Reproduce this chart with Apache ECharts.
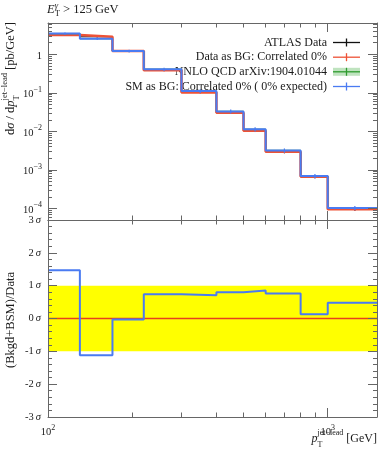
<!DOCTYPE html>
<html><head><meta charset="utf-8">
<script src="https://cdn.jsdelivr.net/npm/echarts@6.0.0/dist/echarts.min.js"></script>
<style>html,body{margin:0;padding:0;background:#fff}#c{width:389px;height:450px}</style>
</head><body><div id="c"></div>
<script>
// ---------------- data ----------------
const binEdges = [100, 130, 170, 220, 300, 400, 500, 600, 800, 1000, 1500];
const dataValues = [3.17, 2.85, 1.22, 0.385, 0.103, 0.0305, 0.0104, 0.00295, 0.00067, 0.000095];
const dataErrors = [0.12, 0.11, 0.05, 0.02, 0.006, 0.002, 0.0008, 0.00025, 0.00006, 0.000009];
const dataAsBgValues = [3.17, 2.85, 1.22, 0.385, 0.103, 0.0305, 0.0104, 0.00295, 0.00067, 0.000095];
const dataAsBgErrors = [0.12, 0.11, 0.05, 0.02, 0.006, 0.002, 0.0008, 0.00025, 0.00006, 0.000009];
const nnloValues = [3.45, 2.55, 1.22, 0.41, 0.111, 0.033, 0.0113, 0.0032, 0.00069, 0.000102];
const nnloLow = [3.30, 2.44, 1.17, 0.39, 0.106, 0.0315, 0.0107, 0.00303, 0.00065, 0.000096];
const nnloHigh = [3.60, 2.66, 1.27, 0.43, 0.116, 0.0346, 0.0119, 0.00338, 0.00073, 0.000108];
const smValues = [3.45, 2.55, 1.22, 0.41, 0.111, 0.033, 0.0113, 0.0032, 0.00069, 0.000102];
const smErrors = [0.25, 0.2, 0.1, 0.04, 0.012, 0.004, 0.0014, 0.0004, 0.00009, 0.000013];
const ratioValues = [1.47, -1.12, -0.03, 0.74, 0.71, 0.80, 0.85, 0.76, 0.13, 0.48];
const sigmaBand = [-1, 1];
const ratioReference = 0;
const yTopMajorTicks = [1e-4, 1e-3, 1e-2, 1e-1, 1];
const yTopMinorTicks = [6e-5, 7e-5, 8e-5, 9e-5,
  2e-4, 3e-4, 4e-4, 5e-4, 6e-4, 7e-4, 8e-4, 9e-4,
  2e-3, 3e-3, 4e-3, 5e-3, 6e-3, 7e-3, 8e-3, 9e-3,
  2e-2, 3e-2, 4e-2, 5e-2, 6e-2, 7e-2, 8e-2, 9e-2,
  0.2, 0.3, 0.4, 0.5, 0.6, 0.7, 0.8, 0.9, 2, 3, 4, 5, 6];
const xMajorTicks = [100, 1000];
const xMinorTicks = [200, 300, 400, 500, 600, 700, 800, 900];
const legendLabels = ['ATLAS Data', 'Data as BG: Correlated 0%', 'NNLO QCD arXiv:1904.01044', 'SM as BG: Correlated 0% ( 0% expected)'];

// ---------------- style ----------------
const FONT = '"Liberation Serif", "Times New Roman", serif';
const AX = '#666';
const RED = '#EE5236';
const BLUE = '#4A7BF2';
const GREEN = '#2E9A2E';
const GREEN_BAND = 'rgba(60,170,60,0.33)';
const TOP = {left: 48, top: 23, width: 329, height: 197};
const BOT = {left: 48, top: 220, width: 329, height: 197};
const X_MIN = 100, X_MAX = 1500, Y_MIN = 5e-5, Y_MAX = 6.5;

const cv = document.createElement('canvas').getContext('2d');
function tw(t, s, it) { cv.font = (it ? 'italic ' : '') + s + 'px ' + FONT; return cv.measureText(t).width; }
function txt(t, x, y, s, it, align, color) {
  return {type: 'text', x: x, y: y, silent: true, style: {text: t, font: (it ? 'italic ' : '') + s + 'px ' + FONT,
    fill: color || '#1a1a1a', align: align || 'left', verticalAlign: 'middle', textAlign: align || 'left', textVerticalAlign: 'middle'}};
}
function row(parts, size) {
  let x = 0; const els = [];
  for (const p of parts) {
    if (p.sup !== undefined || p.sub !== undefined) {
      const ss = p.s || size * 0.7; let w = 0;
      if (p.sup) { els.push(txt(p.sup, x, p.supDy !== undefined ? p.supDy : -size * 0.48, ss, p.supI)); w = Math.max(w, tw(p.sup, ss, p.supI)); }
      if (p.sub) { els.push(txt(p.sub, x, p.subDy !== undefined ? p.subDy : size * 0.42, ss, p.subI)); w = Math.max(w, tw(p.sub, ss, p.subI)); }
      x += w;
    } else {
      const s = p.s || size;
      els.push(txt(p.t, x, p.dy || 0, s, p.i));
      x += tw(p.t, s, p.i);
    }
  }
  return {els: els, width: x};
}

// ---------------- helpers built from data ----------------
function stepPoints(vals) { return binEdges.map((e, i) => [e, vals[Math.min(i, vals.length - 1)]]); }
function binCenter(i) { return (binEdges[i] + binEdges[i + 1]) / 2; }
function errItems(vals, errs) { return vals.map((v, i) => [binCenter(i), v, errs[i]]); }
function errRender(color, w) {
  return function (params, api) {
    const c = api.value(0), v = api.value(1), e = api.value(2);
    const p1 = api.coord([c, v - e]), p2 = api.coord([c, v + e]);
    return {type: 'line', shape: {x1: p1[0], y1: p1[1], x2: p2[0], y2: p2[1]}, style: {stroke: color, lineWidth: w}};
  };
}

// ---------------- axes ----------------
const supRich = {b: {fontFamily: FONT, fontSize: 10.5, color: '#1a1a1a', lineHeight: 14, verticalAlign: 'bottom'},
                 s: {fontFamily: FONT, fontSize: 8, color: '#1a1a1a', lineHeight: 7, verticalAlign: 'top'}};
function logX(grid, pos, ticks, len, showLine, labels) {
  return {type: 'log', logBase: 10, gridIndex: grid, position: pos, min: X_MIN, max: X_MAX, z: 10,
    axisLine: {show: showLine, onZero: false, lineStyle: {color: AX, width: 1}},
    axisTick: {show: true, inside: true, length: len, customValues: ticks, lineStyle: {color: AX, width: 1}},
    minorTick: {show: false}, splitLine: {show: false},
    axisLabel: labels ? {show: true, customValues: xMajorTicks, margin: 7, formatter: function (v) {
      return '{b|10}{s|' + Math.round(Math.log10(v)) + '}'; }, rich: supRich} : {show: false}};
}
function logY(grid, pos, ticks, len, showLine, labels) {
  return {type: 'log', logBase: 10, gridIndex: grid, position: pos, min: Y_MIN, max: Y_MAX, z: 10,
    axisLine: {show: showLine, onZero: false, lineStyle: {color: AX, width: 1}},
    axisTick: {show: true, inside: true, length: len, customValues: ticks, lineStyle: {color: AX, width: 1}},
    minorTick: {show: false}, splitLine: {show: false},
    axisLabel: labels ? {show: true, customValues: yTopMajorTicks, margin: 6, formatter: function (v) {
      const e = Math.round(Math.log10(v));
      return e === 0 ? '{b|1}' : '{b|10}{s|\u2212' + (-e) + '}'; }, rich: supRich} : {show: false}};
}
function sigY(grid, pos, labels) {
  return {type: 'value', gridIndex: grid, position: pos, min: -3, max: 3, interval: 1, z: 10,
    axisLine: {show: true, onZero: false, lineStyle: {color: AX, width: 1}},
    axisTick: {show: true, inside: true, length: 9, lineStyle: {color: AX, width: 1}},
    minorTick: {show: true, splitNumber: 5, length: 4, lineStyle: {color: AX, width: 1}},
    splitLine: {show: false},
    axisLabel: labels ? {show: true, margin: 7, formatter: function (v) { return '{n|' + v + '}{g|\u2009\u03C3}'; },
      rich: {n: {fontFamily: FONT, fontSize: 10.5, color: '#1a1a1a'}, g: {fontFamily: FONT, fontSize: 10.5, fontStyle: 'italic', color: '#1a1a1a'}}} : {show: false}};
}

// ---------------- graphic texts ----------------
const graphics = [];
const title = row([{t: 'E', i: true, s: 12.5}, {sup: '\u03B3', supI: true, sub: 'T', s: 8.5, supDy: -4.5, subDy: 4}, {t: ' > 125 GeV', s: 12.5}], 12.5);
graphics.push({type: 'group', x: 47, y: 10, children: title.els});
const xTitle = row([{t: 'p', i: true}, {sup: 'jet\u2212lead', sub: 'T', s: 8, supDy: -6, subDy: 5.5}, {t: ' [GeV]'}], 12);
graphics.push({type: 'group', x: 377 - xTitle.width, y: 439, children: xTitle.els});
const yTitle = row([{t: 'd'}, {t: '\u03C3', i: true}, {t: ' / d'}, {t: 'p', i: true}, {sup: 'jet\u2212lead', sub: 'T', s: 8.5, supDy: -6.5, subDy: 5.5}, {t: ' [pb/GeV]'}], 12.5);
graphics.push({type: 'group', x: 11, y: 22 + yTitle.width, rotation: Math.PI / 2, children: yTitle.els});
const rTitle = row([{t: '(Bkgd+BSM)/Data'}], 12.5);
graphics.push({type: 'group', x: 11, y: 320 + rTitle.width / 2, rotation: Math.PI / 2, children: rTitle.els});

// legend
const legY = [42.5, 57.2, 71.8, 86.5];
const legColors = ['#111', RED, GREEN, BLUE];
legendLabels.forEach((lab, i) => {
  const y = legY[i];
  graphics.push(txt(lab, 327, y, 12, false, 'right'));
  if (i === 2) graphics.push({type: 'rect', silent: true, shape: {x: 333, y: y - 4, width: 27, height: 8}, style: {fill: GREEN_BAND}});
  graphics.push({type: 'line', silent: true, shape: {x1: 333, y1: y, x2: 360, y2: y}, style: {stroke: legColors[i], lineWidth: 1.3}});
  graphics.push({type: 'line', silent: true, shape: {x1: 346.5, y1: y - 4, x2: 346.5, y2: y + 4}, style: {stroke: legColors[i], lineWidth: 1.3}});
});

// ---------------- chart ----------------
const chart = echarts.init(document.getElementById('c'), null, {renderer: 'canvas'});
chart.setOption({
  animation: false,
  backgroundColor: '#fff',
  grid: [
    Object.assign({containLabel: false}, TOP), Object.assign({containLabel: false}, TOP),
    Object.assign({containLabel: false}, BOT), Object.assign({containLabel: false}, BOT)
  ],
  xAxis: [
    logX(0, 'bottom', xMajorTicks, 9, true, false),
    logX(0, 'top', xMajorTicks, 9, true, false),
    logX(1, 'bottom', xMinorTicks, 4.5, false, false),
    logX(1, 'top', xMinorTicks, 4.5, false, false),
    logX(2, 'bottom', xMajorTicks, 9, true, true),
    logX(2, 'top', xMajorTicks, 9, true, false),
    logX(3, 'bottom', xMinorTicks, 4.5, false, false),
    logX(3, 'top', xMinorTicks, 4.5, false, false)
  ],
  yAxis: [
    logY(0, 'left', yTopMajorTicks, 9, true, true),
    logY(0, 'right', yTopMajorTicks, 9, true, false),
    logY(1, 'left', yTopMinorTicks, 4, false, false),
    logY(1, 'right', yTopMinorTicks, 4, false, false),
    sigY(2, 'left', true),
    sigY(2, 'right', false),
    {type: 'value', gridIndex: 3, min: -3, max: 3, show: false}
  ],
  graphic: {elements: graphics},
  series: [
    {name: 'ATLAS Data', type: 'custom', xAxisIndex: 0, yAxisIndex: 0, z: 1,
      data: dataValues.map((v, i) => [binEdges[i], v, binEdges[i + 1], dataErrors[i], binCenter(i)]),
      renderItem: function (params, api) {
        const lo = api.value(0), v = api.value(1), hi = api.value(2), e = api.value(3), c = api.value(4);
        const a = api.coord([lo, v]), b = api.coord([hi, v]), t = api.coord([c, v + e]), d = api.coord([c, v - e]);
        return {type: 'group', children: [
          {type: 'line', shape: {x1: a[0], y1: a[1], x2: b[0], y2: b[1]}, style: {stroke: '#111', lineWidth: 1}},
          {type: 'line', shape: {x1: t[0], y1: t[1], x2: d[0], y2: d[1]}, style: {stroke: '#111', lineWidth: 1}}]};
      }},
    {name: 'Data as BG: Correlated 0%', type: 'line', step: 'end', xAxisIndex: 0, yAxisIndex: 0, z: 2,
      data: stepPoints(dataAsBgValues), symbol: 'none', lineStyle: {color: RED, width: 2.6}},
    {type: 'custom', xAxisIndex: 0, yAxisIndex: 0, z: 2, data: errItems(dataAsBgValues, dataAsBgErrors), renderItem: errRender(RED, 1.2)},
    {name: 'NNLO QCD band', type: 'custom', xAxisIndex: 0, yAxisIndex: 0, z: 3,
      data: nnloLow.map((v, i) => [binEdges[i], nnloHigh[i], binEdges[i + 1], v]),
      renderItem: function (params, api) {
        const a = api.coord([api.value(0), api.value(1)]), b = api.coord([api.value(2), api.value(3)]);
        return {type: 'rect', shape: {x: a[0], y: a[1], width: b[0] - a[0], height: b[1] - a[1]}, style: {fill: GREEN_BAND}};
      }},
    {name: 'NNLO QCD arXiv:1904.01044', type: 'line', step: 'end', xAxisIndex: 0, yAxisIndex: 0, z: 3,
      data: stepPoints(nnloValues), symbol: 'none', lineStyle: {color: GREEN, width: 1}},
    {name: 'SM as BG', type: 'line', step: 'end', xAxisIndex: 0, yAxisIndex: 0, z: 4,
      data: stepPoints(smValues), symbol: 'none', lineStyle: {color: BLUE, width: 2}},
    {type: 'custom', xAxisIndex: 0, yAxisIndex: 0, z: 4, data: errItems(smValues, smErrors), renderItem: errRender(BLUE, 1.2)},
    // ratio panel
    {name: 'band', type: 'custom', xAxisIndex: 4, yAxisIndex: 4, z: 1,
      data: [[binEdges[0], sigmaBand[1], binEdges[binEdges.length - 1], sigmaBand[0]]],
      renderItem: function (params, api) {
        const a = api.coord([api.value(0), api.value(1)]), b = api.coord([api.value(2), api.value(3)]);
        return {type: 'rect', shape: {x: a[0], y: a[1], width: b[0] - a[0], height: b[1] - a[1]}, style: {fill: '#FFFF00'}};
      }},
    {name: 'ref', type: 'line', xAxisIndex: 4, yAxisIndex: 4, z: 2, symbol: 'none',
      data: [[binEdges[0], ratioReference], [binEdges[binEdges.length - 1], ratioReference]],
      lineStyle: {color: '#E8401C', width: 1.5}},
    {name: 'ratio', type: 'line', step: 'end', xAxisIndex: 4, yAxisIndex: 4, z: 3, symbol: 'none',
      data: stepPoints(ratioValues), lineStyle: {color: BLUE, width: 2}}
  ]
});
</script></body></html>
